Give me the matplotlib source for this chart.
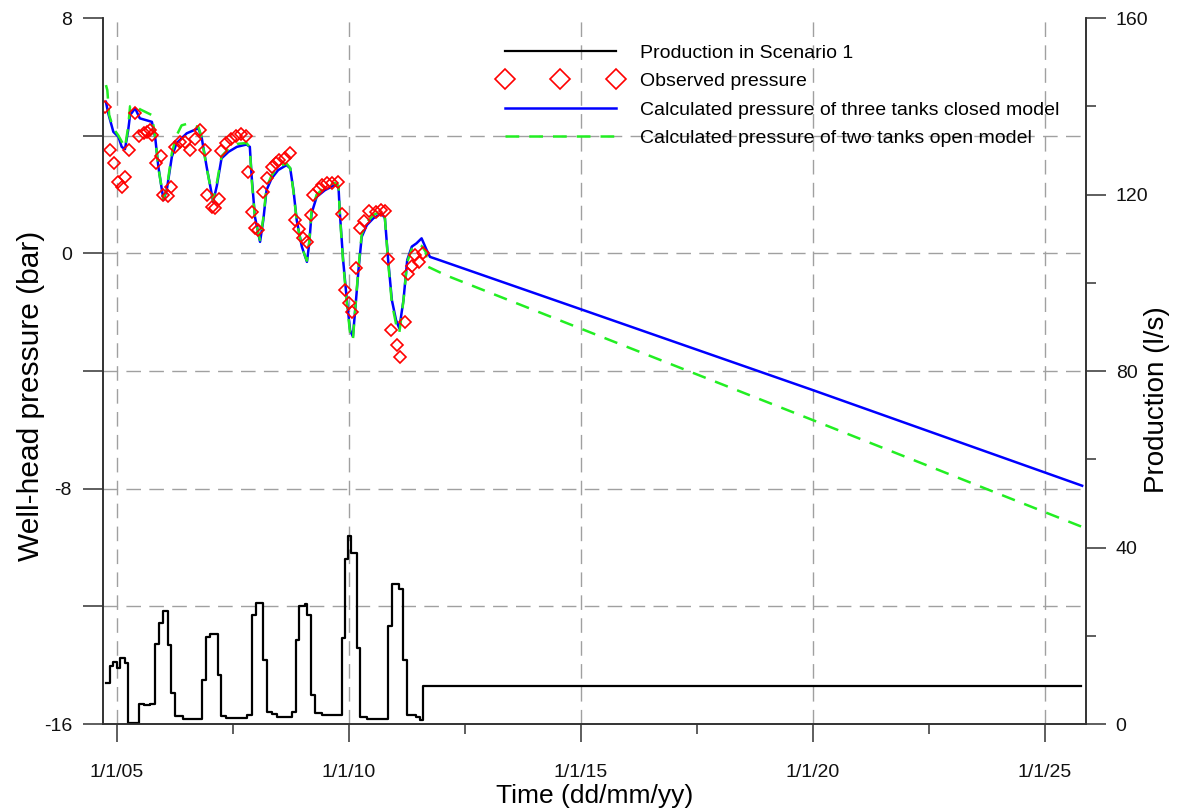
import matplotlib
matplotlib.use('Agg')
import matplotlib.pyplot as plt

plt.rcParams['font.family'] = ['Liberation Sans', 'DejaVu Sans']

# ---------------- data (time in decimal years) ----------------
prod_t = [2004.77, 2004.86, 2004.93, 2005.00, 2005.07, 2005.18, 2005.25, 2005.49, 2005.60, 2005.72,
          2005.83, 2005.91, 2005.99, 2006.11, 2006.17, 2006.26, 2006.42, 2006.85, 2006.93, 2007.01,
          2007.18, 2007.25, 2007.35, 2007.80, 2007.91, 2008.00, 2008.15, 2008.25, 2008.34, 2008.45,
          2008.77, 2008.86, 2008.94, 2009.06, 2009.10, 2009.18, 2009.27, 2009.42, 2009.85, 2009.92,
          2009.99, 2010.06, 2010.17, 2010.24, 2010.39, 2010.84, 2010.93, 2011.09, 2011.18, 2011.25,
          2011.46, 2011.54, 2011.59, 2025.78]
prod_q = [9.2, 13.2, 14.0, 12.6, 14.9, 13.8, 0.3, 4.5, 4.2, 4.6,
          18.1, 22.8, 25.5, 17.9, 7.0, 1.8, 1.05, 10.0, 19.8, 20.3,
          11.1, 1.8, 1.3, 2.0, 24.7, 27.5, 14.5, 2.8, 2.2, 1.66,
          2.8, 19.0, 26.7, 27.3, 24.7, 6.6, 2.6, 2.0, 19.4, 37.5,
          42.5, 38.7, 17.2, 1.66, 1.05, 22.1, 31.7, 30.7, 14.5, 2.0,
          1.66, 0.9, 8.5, 8.5]

obs_t = [2004.74, 2004.86, 2004.94, 2005.04, 2005.11, 2005.18, 2005.26, 2005.39, 2005.49, 2005.59,
         2005.66, 2005.72, 2005.76, 2005.85, 2005.95, 2006.01, 2006.10, 2006.17, 2006.26, 2006.37,
         2006.47, 2006.58, 2006.68, 2006.79, 2006.90, 2006.94, 2007.05, 2007.12, 2007.21, 2007.25,
         2007.36, 2007.46, 2007.57, 2007.68, 2007.79, 2007.83, 2007.91, 2007.98, 2008.05, 2008.15,
         2008.25, 2008.35, 2008.43, 2008.50, 2008.63, 2008.74, 2008.85, 2008.94, 2009.02, 2009.10,
         2009.19, 2009.24, 2009.35, 2009.43, 2009.53, 2009.64, 2009.78, 2009.86, 2009.93, 2010.01,
         2010.08, 2010.16, 2010.24, 2010.33, 2010.44, 2010.59, 2010.70, 2010.78, 2010.85, 2010.92,
         2011.03, 2011.11, 2011.21, 2011.27, 2011.36, 2011.43, 2011.52, 2011.61]
obs_p = [4.98, 3.51, 3.07, 2.43, 2.27, 2.58, 3.51, 4.78, 3.99, 4.08,
         4.13, 4.19, 4.02, 3.06, 3.30, 2.00, 1.95, 2.25, 3.62, 3.77,
         3.79, 3.52, 3.89, 4.20, 3.51, 2.00, 1.58, 1.53, 1.85, 3.48,
         3.76, 3.88, 4.00, 4.04, 3.98, 2.77, 1.41, 0.85, 0.79, 2.10,
         2.57, 2.92, 3.06, 3.17, 3.25, 3.41, 1.13, 0.82, 0.51, 0.39,
         1.29, 1.97, 2.18, 2.32, 2.38, 2.40, 2.43, 1.33, -1.25, -1.70,
         -1.98, -0.51, 0.85, 1.10, 1.43, 1.41, 1.46, 1.45, -0.19, -2.61,
         -3.13, -3.51, -2.34, -0.70, -0.44, -0.06, -0.30, 0.00]

three_t = [2004.77, 2004.82, 2004.93, 2005.04, 2005.11, 2005.18, 2005.25, 2005.29, 2005.40, 2005.50,
           2005.76, 2005.83, 2005.90, 2006.01, 2006.08, 2006.19, 2006.29, 2006.51, 2006.76, 2006.83,
           2006.94, 2007.08, 2007.16, 2007.26, 2007.41, 2007.59, 2007.80, 2007.87, 2007.91, 2007.98,
           2008.09, 2008.16, 2008.23, 2008.34, 2008.48, 2008.66, 2008.74, 2008.81, 2008.88, 2008.99,
           2009.10, 2009.15, 2009.20, 2009.31, 2009.49, 2009.70, 2009.78, 2009.81, 2009.88, 2009.96,
           2010.03, 2010.09, 2010.14, 2010.21, 2010.28, 2010.39, 2010.53, 2010.71, 2010.78, 2010.85,
           2010.93, 2011.02, 2011.09, 2011.18, 2011.26, 2011.36, 2011.46, 2011.57, 2011.68, 2011.75,
           2011.90, 2015.0, 2020.0, 2025.8]
three_p = [5.15, 4.76, 4.13, 3.96, 3.62, 3.54, 4.19, 4.70, 4.93, 4.59,
           4.47, 3.96, 2.94, 1.81, 2.15, 3.28, 3.74, 4.08, 4.25, 3.96,
           2.94, 1.75, 2.30, 3.23, 3.45, 3.62, 3.70, 3.62, 2.60, 1.24,
           0.39, 1.13, 2.15, 2.55, 2.83, 3.00, 2.89, 2.15, 1.13, 0.23,
           -0.29, 0.34, 1.36, 1.92, 2.15, 2.32, 2.26, 1.36, -0.23, -1.59,
           -2.61, -2.83, -1.93, -0.57, 0.56, 0.96, 1.19, 1.36, 1.19, -0.23,
           -1.59, -2.27, -2.55, -1.59, -0.23, 0.23, 0.34, 0.51, 0.11, -0.12,
           -0.20, -1.90, -4.65, -7.90]

two_t = [2004.77, 2004.80, 2004.84, 2004.93, 2005.04, 2005.11, 2005.18, 2005.25, 2005.29, 2005.40,
         2005.50, 2005.76, 2005.83, 2005.90, 2006.01, 2006.08, 2006.19, 2006.29, 2006.40, 2006.51,
         2006.76, 2006.83, 2006.94, 2007.08, 2007.16, 2007.26, 2007.41, 2007.59, 2007.80, 2007.87,
         2007.91, 2007.98, 2008.09, 2008.16, 2008.23, 2008.34, 2008.48, 2008.66, 2008.74, 2008.81,
         2008.88, 2008.99, 2009.10, 2009.15, 2009.20, 2009.31, 2009.49, 2009.70, 2009.78, 2009.81,
         2009.88, 2009.96, 2010.03, 2010.09, 2010.14, 2010.21, 2010.28, 2010.39, 2010.53, 2010.71,
         2010.78, 2010.85, 2010.93, 2011.02, 2011.09, 2011.18, 2011.26, 2011.36, 2011.46, 2011.57,
         2011.66, 2011.70, 2012.10, 2015.0, 2020.0, 2025.8]
two_p = [5.72, 5.55, 4.70, 4.25, 4.00, 3.80, 3.60, 4.30, 5.00, 5.05,
         4.90, 4.70, 3.96, 2.90, 1.85, 2.20, 3.40, 4.00, 4.35, 4.40,
         4.30, 3.96, 2.90, 1.80, 2.40, 3.30, 3.55, 3.72, 3.75, 3.60,
         2.50, 1.20, 0.45, 1.20, 2.25, 2.65, 2.95, 3.05, 2.90, 2.10,
         1.10, 0.20, -0.25, 0.40, 1.45, 2.00, 2.25, 2.40, 2.30, 1.30,
         -0.30, -1.70, -2.70, -2.95, -1.90, -0.50, 0.65, 1.05, 1.30, 1.45,
         1.20, -0.30, -1.70, -2.40, -2.70, -1.60, -0.30, 0.15, 0.30, 0.25,
         0.05, -0.45, -0.75, -2.56, -5.67, -9.30]

x_major = [2005, 2010, 2015, 2020, 2025]
x_labels = ['1/1/05', '1/1/10', '1/1/15', '1/1/20', '1/1/25']
x_minor = [2007.5, 2012.5, 2017.5, 2022.5]
p_major = [-16, -8, 0, 8]
p_minor = [-12, -4, 4]
q_major = [0, 40, 80, 120, 160]
q_minor = [20, 60, 100, 140]

# ---------------- figure ----------------
fig = plt.figure(figsize=(11.82, 8.10), dpi=100)
ax = fig.add_axes([0.08714, 0.10617, 0.83164, 0.87160])
ax2 = ax.twinx()

spine_c = '#333333'
grid_c = '#a0a0a0'

ax.set_xlim(2004.707, 2025.883)
ax.set_ylim(-16, 8)
ax2.set_ylim(0, 160)

# grid
for v in x_major:
    ax.axvline(v, color=grid_c, lw=1.0, dashes=(10.5, 6), zorder=0)
for v in p_minor + p_major[1:-1]:
    ax.axhline(v, color=grid_c, lw=1.0, dashes=(10.5, 6), zorder=0)

# pressure series
l_three, = ax.plot(three_t, three_p, color='#0000ff', lw=1.8, zorder=3,
                   label='Calculated pressure of three tanks closed model')
l_two, = ax.plot(two_t, two_p, color='#22ee22', lw=1.8, ls=(0, (5.5, 4)), zorder=4,
                 label='Calculated pressure of two tanks open model')
l_obs, = ax.plot(obs_t, obs_p, ls='none', marker='D', ms=5.8, mfc='none', mec='#ff0000',
                 mew=1.2, zorder=5, label='Observed pressure')

# production
l_prod, = ax2.plot(prod_t, prod_q, drawstyle='steps-post', color='black', lw=1.6,
                   label='Production in Scenario 1')

# axes styling
for a in (ax, ax2):
    a.spines['top'].set_visible(False)
    for s in ('left', 'right', 'bottom'):
        a.spines[s].set_color(spine_c)
        a.spines[s].set_linewidth(1.2)

ax.set_xticks(x_major)
ax.set_xticklabels(x_labels)
ax.set_xticks(x_minor, minor=True)
ax.set_yticks(p_major)
ax.set_yticks(p_minor, minor=True)
ax.set_yticklabels([str(v) for v in p_major])
ax.tick_params(axis='x', which='major', direction='out', length=13, width=1.1, color=spine_c,
               labelsize=14, pad=16, labelcolor='#111111')
ax.tick_params(axis='x', which='minor', direction='out', length=7, width=1.1, color=spine_c)
ax.tick_params(axis='y', which='both', direction='out', length=14.4, width=1.1, color=spine_c,
               labelsize=14, pad=8, labelcolor='#111111')

ax2.set_yticks(q_major)
ax2.set_yticks(q_minor, minor=True)
ax2.tick_params(axis='y', which='major', direction='out', length=14.4, width=1.1, color=spine_c,
                labelsize=14, pad=7, labelcolor='#111111')
ax2.tick_params(axis='y', which='minor', direction='out', length=7, width=1.1, color=spine_c)

ax.set_xlabel('Time (dd/mm/yy)', fontsize=19, labelpad=2)
ax.set_ylabel('Well-head pressure (bar)', fontsize=21.5)
ax.yaxis.set_label_coords(-0.059, 0.465)
ax2.set_ylabel('Production (l/s)', fontsize=20)
ax2.yaxis.set_label_coords(1.0585, 0.46)

leg = ax2.legend(handles=[l_prod, l_obs, l_three, l_two], loc='upper left',
                 bbox_to_anchor=(499 / 1182, 1 - 44 / 810), bbox_transform=fig.transFigure,
                 frameon=False, fontsize=14, handlelength=6.3, handletextpad=0.95,
                 labelspacing=0.56, borderpad=0, borderaxespad=0, numpoints=3, markerscale=1.7)

fig.savefig('out.png', dpi=100)
